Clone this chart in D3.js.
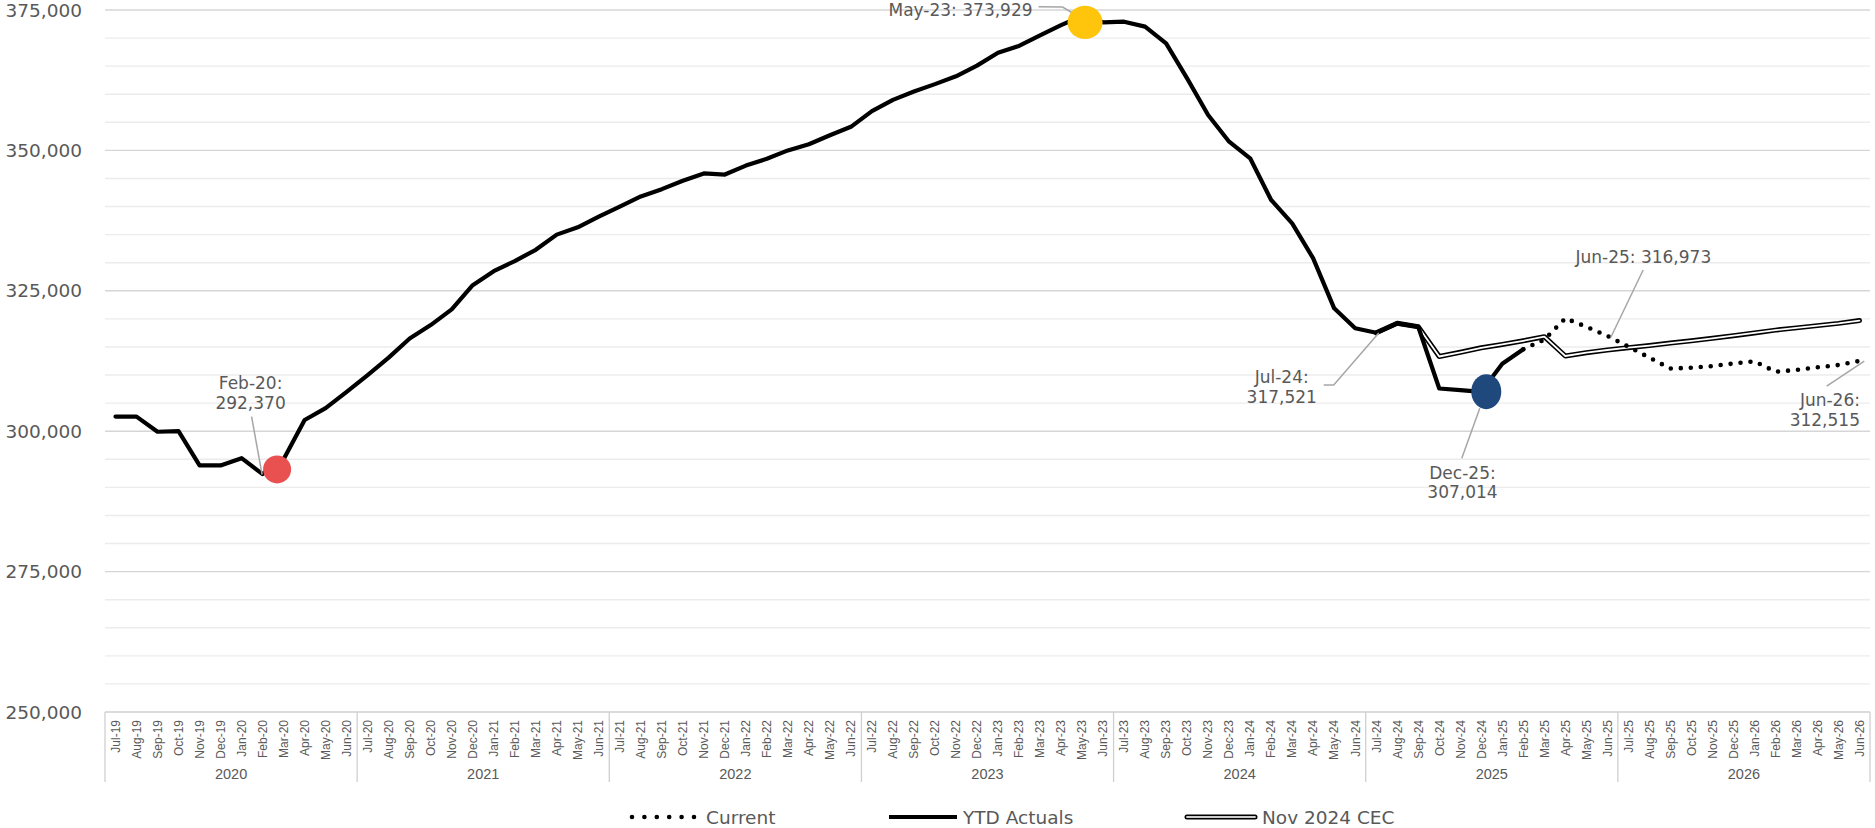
<!DOCTYPE html>
<html><head><meta charset="utf-8">
<script src="https://cdn.jsdelivr.net/npm/d3@7/dist/d3.min.js"></script>
<style>html,body{margin:0;padding:0;background:#fff}svg{display:block}</style>
</head><body>
<svg id="chart" width="1875" height="828"></svg>
<script>
// ---------- DATA ----------
const categories = [
 "Jul-19","Aug-19","Sep-19","Oct-19","Nov-19","Dec-19","Jan-20","Feb-20","Mar-20","Apr-20","May-20","Jun-20",
 "Jul-20","Aug-20","Sep-20","Oct-20","Nov-20","Dec-20","Jan-21","Feb-21","Mar-21","Apr-21","May-21","Jun-21",
 "Jul-21","Aug-21","Sep-21","Oct-21","Nov-21","Dec-21","Jan-22","Feb-22","Mar-22","Apr-22","May-22","Jun-22",
 "Jul-22","Aug-22","Sep-22","Oct-22","Nov-22","Dec-22","Jan-23","Feb-23","Mar-23","Apr-23","May-23","Jun-23",
 "Jul-23","Aug-23","Sep-23","Oct-23","Nov-23","Dec-23","Jan-24","Feb-24","Mar-24","Apr-24","May-24","Jun-24",
 "Jul-24","Aug-24","Sep-24","Oct-24","Nov-24","Dec-24","Jan-25","Feb-25","Mar-25","Apr-25","May-25","Jun-25",
 "Jul-25","Aug-25","Sep-25","Oct-25","Nov-25","Dec-25","Jan-26","Feb-26","Mar-26","Apr-26","May-26","Jun-26"
];
const fiscalYears = ["2020","2021","2022","2023","2024","2025","2026"];
const yTicks = [250000, 275000, 300000, 325000, 350000, 375000];

const actualsStart = "Jul-19";
const actuals = [
 302600,302600,299900,300000,293900,293900,295200,292370,295000,302000,304100,307000,
 310000,313100,316500,318900,321700,326000,328500,330300,332300,335000,336300,338200,
 340000,341800,343100,344600,345900,345700,347300,348500,350000,351100,352700,354200,
 357000,359000,360500,361800,363200,365100,367400,368600,370500,372300,373929,372800,
 372920,372040,369060,362820,356300,351550,348590,341170,337020,330780,321880,318320,
 317521,319210,318600,307600,307300,307014,312000,314600
];
const currentStart = "Feb-25";
const current = [314600,316300,320100,318600,316973,315050,313100,311150,311300,311600,312050,312440,310600,310900,311370,311790,312515];
const cecStart = "Jul-24";
const cec = [317521,319210,318600,313300,314050,314850,315450,316100,316830,313390,313980,314460,314870,315250,315700,316100,316540,317000,317500,318000,318400,318800,319200,319700];

const seriesNames = ["Current","YTD Actuals","Nov 2024 CEC"];

const markerCats = ["Feb-20","May-23","Dec-24"];
const markerValues = [293200, 372800, 307030];

const annotationCats = ["Feb-20","May-23","Jul-24","Dec-24","Jun-25","Jun-26"];
const annotationValues = [292370, 373929, 317521, 307014, 316973, 312515];
const annotationLines = [["Feb-20:","292,370"],["May-23: 373,929"],["Jul-24:","317,521"],["Dec-25:","307,014"],["Jun-25: 316,973"],["Jun-26:","312,515"]];

// ---------- LAYOUT / STYLE ----------
const svg = d3.select("#chart");
const W = 1875, H = 828;
const plot = {left:105, right:1870, top:10, bottom:712};
const grey = "#595959";

const x = d3.scalePoint().domain(categories).range([plot.left, plot.right]).padding(0.5);
const step = x.step();
const y = d3.scaleLinear().domain([250000, 375000]).range([plot.bottom, plot.top]);

svg.append("rect").attr("width",W).attr("height",H).attr("fill","#fff");

// gridlines (minor every 5000, major every 25000)
const minorTicks = d3.range(255000, 375001, 5000).filter(v => v % 25000 !== 0);
svg.append("g").selectAll("line").data(minorTicks).join("line")
  .attr("x1",plot.left).attr("x2",plot.right)
  .attr("y1",d=>y(d)).attr("y2",d=>y(d))
  .attr("stroke","#ECECEC").attr("stroke-width",1.4);
svg.append("g").selectAll("line").data(yTicks.filter(v=>v>250000)).join("line")
  .attr("x1",plot.left).attr("x2",plot.right)
  .attr("y1",d=>y(d)).attr("y2",d=>y(d))
  .attr("stroke","#D6D6D6").attr("stroke-width",1.4);

// y axis labels
svg.append("g").selectAll("text").data(yTicks).join("text")
  .attr("x",82).attr("y",d=>y(d)+6.5)
  .attr("text-anchor","end")
  .attr("font-family","'DejaVu Sans', sans-serif").attr("font-size",18.5)
  .attr("fill",grey)
  .text(d=>d3.format(",")(d));

// category axis box
const axisG = svg.append("g");
axisG.append("line").attr("x1",plot.left).attr("x2",plot.right)
  .attr("y1",plot.bottom).attr("y2",plot.bottom)
  .attr("stroke","#CFCFCF").attr("stroke-width",1.3);
const boundaries = d3.range(0, fiscalYears.length+1).map(k => k < fiscalYears.length ? x(categories[k*12]) - step/2 : x(categories[categories.length-1]) + step/2);
axisG.selectAll("line.yb").data(boundaries).join("line").attr("class","yb")
  .attr("x1",d=>d).attr("x2",d=>d).attr("y1",plot.bottom).attr("y2",782)
  .attr("stroke","#CFCFCF").attr("stroke-width",1.3);
axisG.selectAll("text.m").data(categories).join("text").attr("class","m")
  .attr("transform",d=>`translate(${x(d)+4.3},720) rotate(-90)`)
  .attr("text-anchor","end")
  .attr("font-family","'Liberation Sans', Arial, sans-serif").attr("font-size",12)
  .attr("fill",grey).text(d=>d);
axisG.selectAll("text.yr").data(fiscalYears).join("text").attr("class","yr")
  .attr("x",(d,i)=>(boundaries[i]+boundaries[i+1])/2).attr("y",779)
  .attr("text-anchor","middle")
  .attr("font-family","'Liberation Sans', Arial, sans-serif").attr("font-size",14.5)
  .attr("fill",grey).text(d=>d);

// ---------- SERIES ----------
function toPoints(start, vals){
  const s = categories.indexOf(start);
  return vals.map((v,i)=>({c:categories[s+i], v}));
}
const line = d3.line().x(d=>x(d.c)).y(d=>y(d.v));

const cecPts = toPoints(cecStart, cec);
svg.append("path").attr("d",line(cecPts)).attr("fill","none")
  .attr("stroke","#000").attr("stroke-width",5).attr("stroke-linejoin","round").attr("stroke-linecap","round");
svg.append("path").attr("d",line(cecPts)).attr("fill","none")
  .attr("stroke","#fff").attr("stroke-width",1.8).attr("stroke-linejoin","round").attr("stroke-linecap","round");

const curPts = toPoints(currentStart, current);
svg.append("path").attr("d",line(curPts)).attr("fill","none")
  .attr("stroke","#000").attr("stroke-width",4.6).attr("stroke-dasharray","0 10")
  .attr("stroke-linecap","round").attr("stroke-linejoin","round");

const actPts = toPoints(actualsStart, actuals);
svg.append("path").attr("d",line(actPts)).attr("fill","none")
  .attr("stroke","#000").attr("stroke-width",4.2).attr("stroke-linejoin","round").attr("stroke-linecap","round");

// ---------- ANNOTATIONS ----------
const annLayout = [
  {tx:-12, ty:-84.8, anchor:"middle", leader:[[-11,-57.4],[-0.5,0.5]]},
  {tx:-49.5, ty:0, anchor:"end", leader:[[-43.5,-9.3],[-19.5,-9],[-9.5,-3]]},
  {tx:-94.5, ty:50.2, anchor:"middle", leader:[[-52.5,52.2],[-42.5,52.2],[2.5,0.2]]},
  {tx:-18.8, ty:86.9, anchor:"middle", leader:[[-19.5,66.5],[-1.5,16.5]]},
  {tx:36, ty:-73.2, anchor:"middle", leader:[[35.8,-65.9],[3.5,1.4]]},
  {tx:0.5, ty:45.4, anchor:"end", leader:[[-32.8,25.1],[4.8,0.1]]}
];
const annG = svg.append("g");
annotationCats.forEach((c,i)=>{
  const px = x(c), py = y(annotationValues[i]);
  const L = annLayout[i];
  annG.append("path")
    .attr("d", d3.line()(L.leader.map(p=>[px+p[0], py+p[1]])))
    .attr("fill","none").attr("stroke","#A6A6A6").attr("stroke-width",1.5);
  const t = annG.append("text")
    .attr("font-family","'DejaVu Sans', sans-serif").attr("font-size",17)
    .attr("fill",grey).attr("text-anchor",L.anchor);
  annotationLines[i].forEach((ln,j)=>{
    t.append("tspan").attr("x",px+L.tx).attr("y",py+L.ty+j*19.7).text(ln);
  });
});

// ---------- MARKERS ----------
const markerStyle = [
  {fill:"#E8514F", rx:14, ry:14, dx:14.5},
  {fill:"#FFC50D", rx:17.5, ry:16.7, dx:3},
  {fill:"#1F497D", rx:15, ry:17.5, dx:5}
];
svg.append("g").selectAll("ellipse").data(markerCats).join("ellipse")
  .attr("cx",(d,i)=>x(d)+markerStyle[i].dx)
  .attr("cy",(d,i)=>y(markerValues[i]))
  .attr("rx",(d,i)=>markerStyle[i].rx).attr("ry",(d,i)=>markerStyle[i].ry)
  .attr("fill",(d,i)=>markerStyle[i].fill);

// ---------- LEGEND ----------
const legY = 817;
const legItems = [
  {x1:632, x2:694, tx:706},
  {x1:889, x2:957, tx:963},
  {x1:1187, x2:1255, tx:1262}
];
const legG = svg.append("g");
legG.append("line").attr("x1",legItems[0].x1).attr("x2",legItems[0].x2).attr("y1",legY).attr("y2",legY)
  .attr("stroke","#000").attr("stroke-width",4.6).attr("stroke-dasharray","0 12.4").attr("stroke-linecap","round");
legG.append("line").attr("x1",legItems[1].x1).attr("x2",legItems[1].x2).attr("y1",legY).attr("y2",legY)
  .attr("stroke","#000").attr("stroke-width",4.2);
legG.append("line").attr("x1",legItems[2].x1).attr("x2",legItems[2].x2).attr("y1",legY).attr("y2",legY)
  .attr("stroke","#000").attr("stroke-width",5).attr("stroke-linecap","round");
legG.append("line").attr("x1",legItems[2].x1).attr("x2",legItems[2].x2).attr("y1",legY).attr("y2",legY)
  .attr("stroke","#cfcfcf").attr("stroke-width",1.8).attr("stroke-linecap","round");
legG.selectAll("text").data(seriesNames).join("text")
  .attr("x",(d,i)=>legItems[i].tx).attr("y",legY+6.5)
  .attr("font-family","'DejaVu Sans', sans-serif").attr("font-size",18.5)
  .attr("fill",grey).text(d=>d);
</script>
</body></html>
